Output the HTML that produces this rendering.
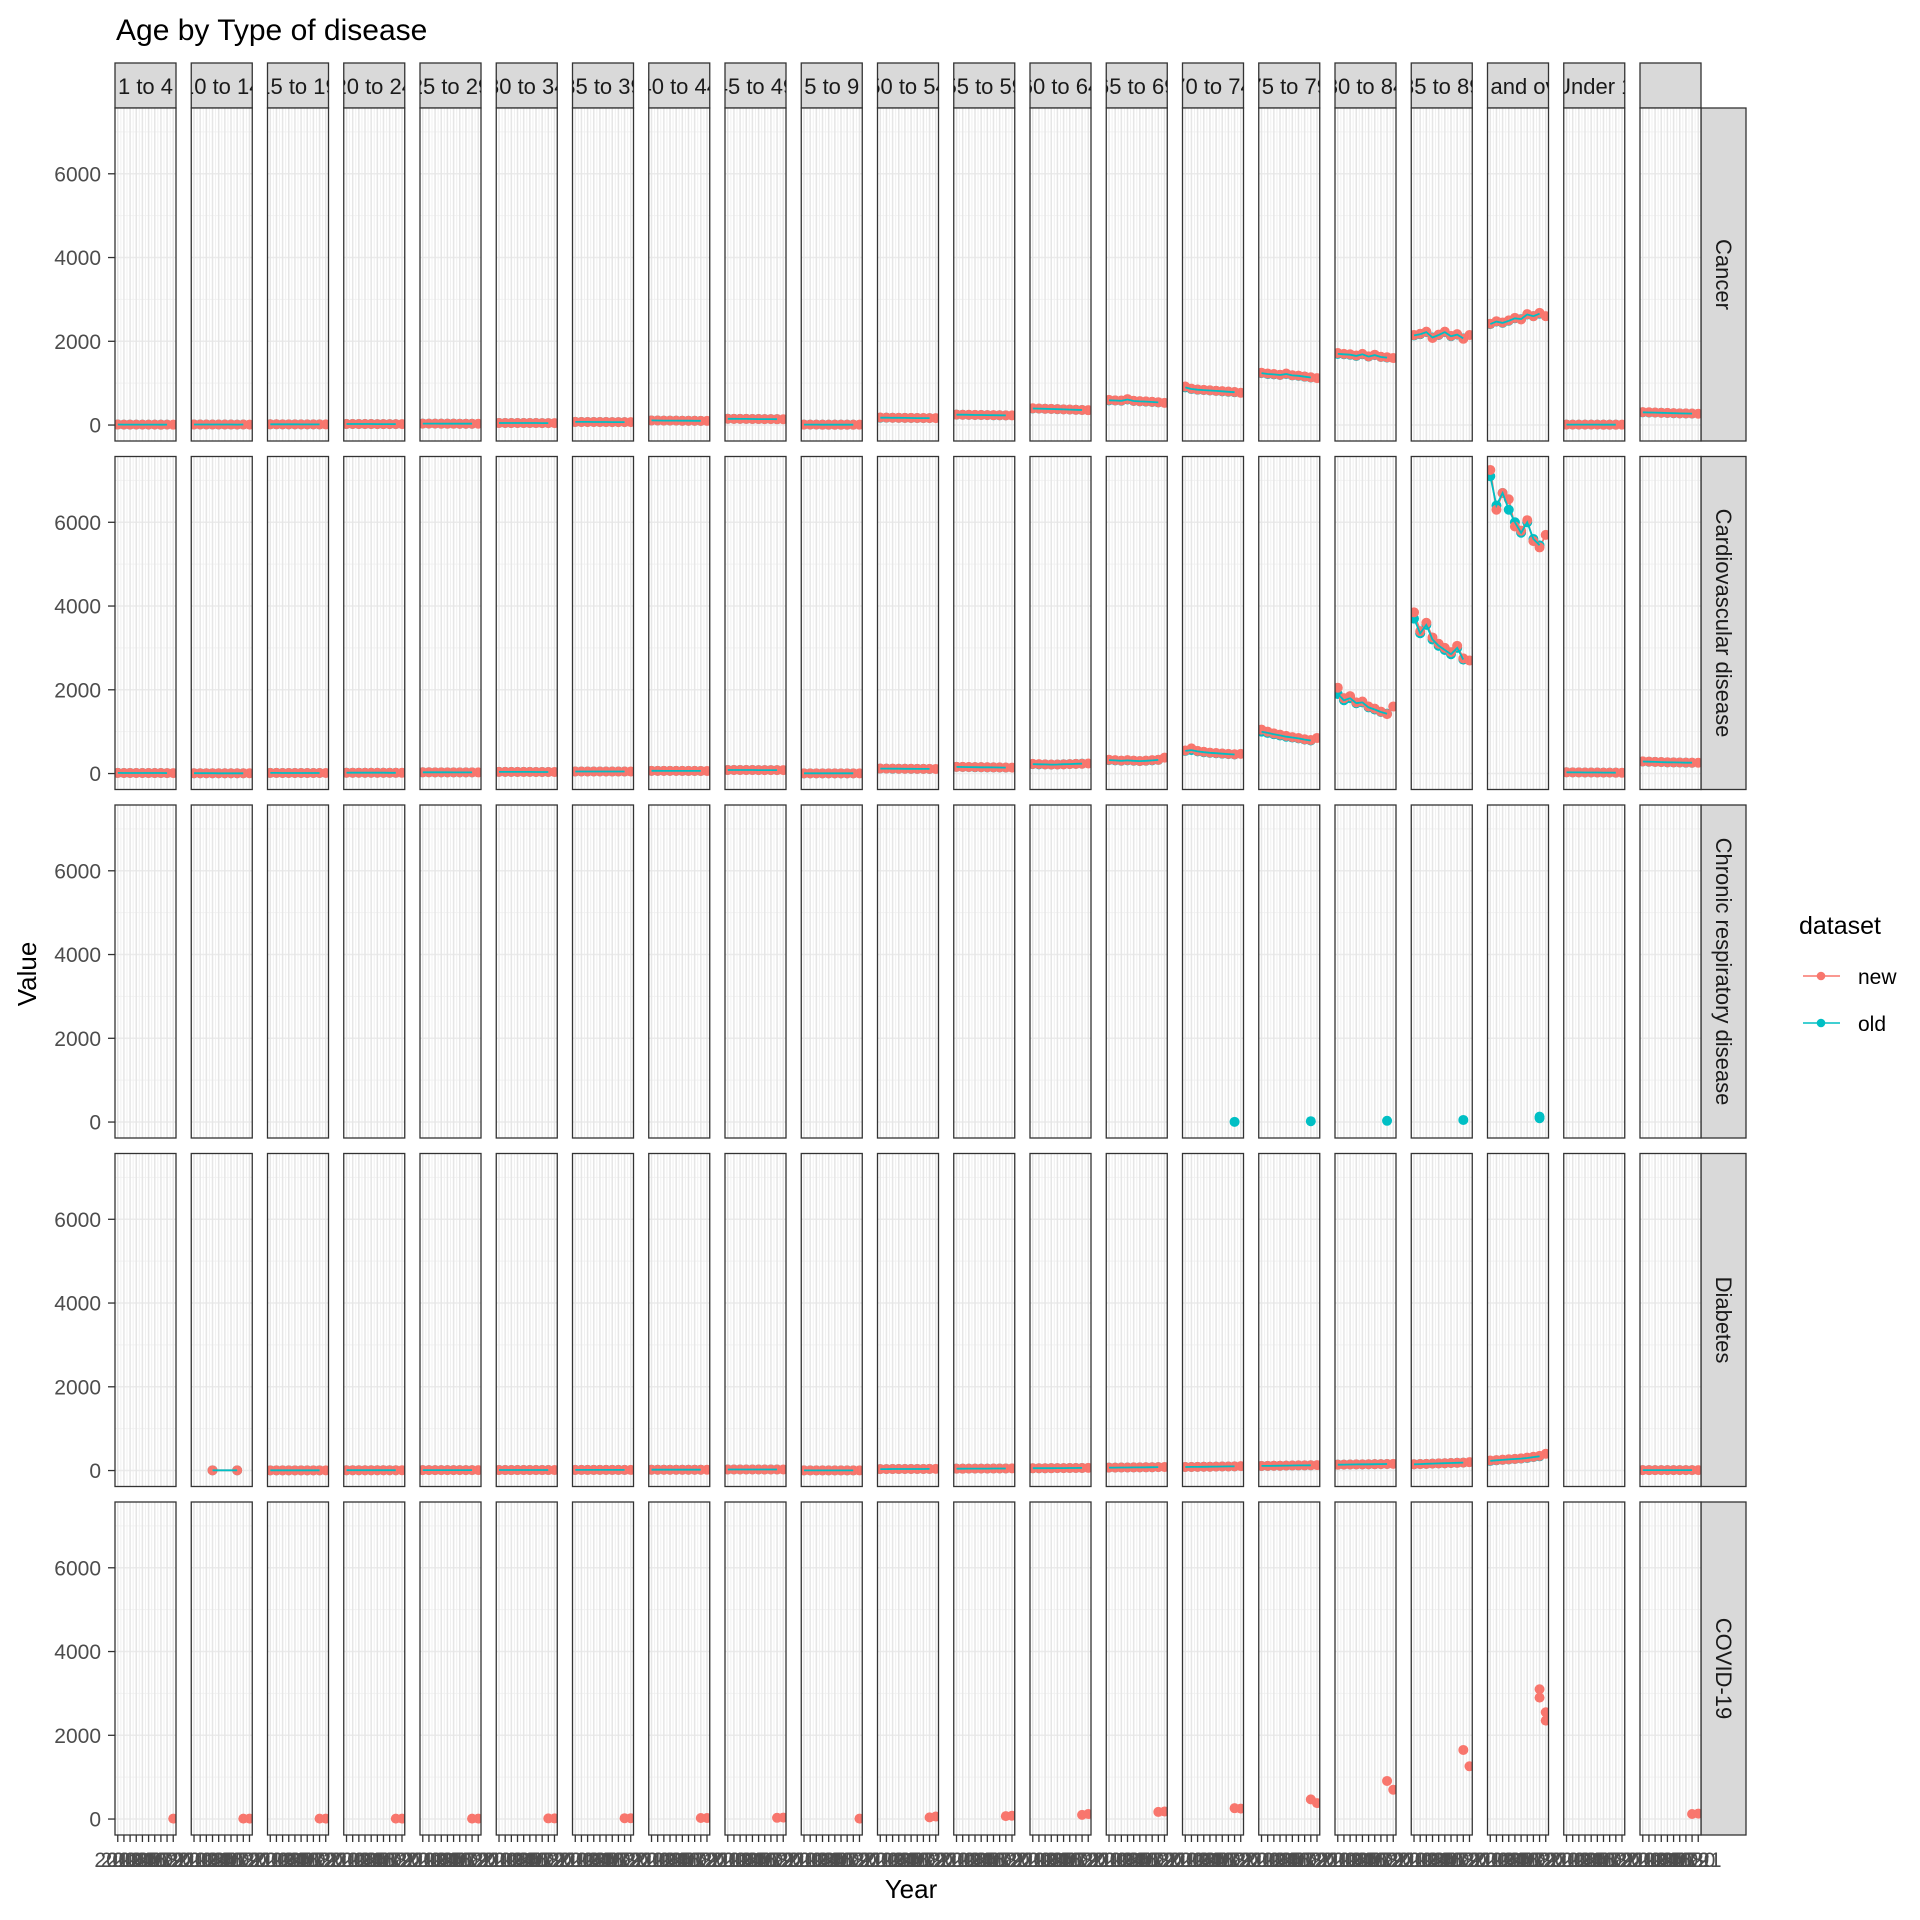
<!DOCTYPE html>
<html><head><meta charset="utf-8"><style>
html,body{margin:0;padding:0;background:#fff;}
svg{display:block;font-family:"Liberation Sans",Arial,sans-serif;}
</style></head><body>
<svg id="chart" width="1920" height="1920" xmlns="http://www.w3.org/2000/svg">
<text x="116" y="40" font-size="30" fill="#000">Age by Type of disease</text>
<text transform="translate(36,974) rotate(-90)" text-anchor="middle" font-size="26" fill="#000">Value</text>
<text x="911" y="1898" text-anchor="middle" font-size="26" fill="#000">Year</text>
<g>
<text x="1799" y="934" font-size="25" fill="#000">dataset</text>
<g><line x1="1803" y1="976" x2="1840" y2="976" stroke="#F8766D" stroke-width="1.6"/><circle cx="1821" cy="976" r="4.3" fill="#F8766D"/><text x="1858" y="984" font-size="21">new</text></g>
<g><line x1="1803" y1="1023" x2="1840" y2="1023" stroke="#00BFC4" stroke-width="1.6"/><circle cx="1821" cy="1023" r="4.3" fill="#00BFC4"/><text x="1858" y="1031" font-size="21">old</text></g>
</g>
<g id="panels"></g>
</svg>
<script>
const years=[2012,2013,2014,2015,2016,2017,2018,2019,2020,2021];
const ageGroups=["1 to 4","10 to 14","15 to 19","20 to 24","25 to 29","30 to 34","35 to 39","40 to 44","45 to 49","5 to 9","50 to 54","55 to 59","60 to 64","65 to 69","70 to 74","75 to 79","80 to 84","85 to 89","90 and over","Under 1",""];
const diseases=["Cancer","Cardiovascular disease","Chronic respiratory disease","Diabetes","COVID-19"];
const yTicks=[0,2000,4000,6000];
const yMinor=[1000,3000,5000,7000];
const N=null;
const cancerNew=[
[12,11,11,10,10,10,10,9,10,9],[14,13,13,12,12,12,12,11,12,11],[18,18,17,17,17,16,16,16,15,15],[25,25,24,24,24,23,23,23,22,22],
[35,34,34,33,33,33,32,32,32,31],[50,50,49,49,48,48,48,47,47,46],[75,74,74,73,72,72,71,71,70,70],[110,108,107,106,105,104,103,102,101,100],
[150,148,147,146,145,143,142,141,140,139],[10,10,10,9,9,9,9,9,9,9],[180,178,175,173,172,170,168,167,166,165],[250,247,245,242,240,238,236,234,232,230],
[400,395,390,385,380,375,370,365,360,355],[600,590,585,620,580,570,565,555,545,530],[920,870,850,840,830,820,810,800,790,770],
[1250,1230,1220,1200,1230,1190,1180,1160,1140,1120],[1720,1700,1690,1660,1700,1640,1680,1630,1620,1600],[2150,2180,2230,2080,2160,2230,2130,2170,2060,2150],
[2420,2480,2450,2500,2560,2520,2650,2600,2680,2600],[10,10,10,10,10,10,9,9,9,9],[310,305,300,295,290,285,280,278,275,270]];
const cancerOld=[
[12,11,11,10,10,10,10,9,10,N],[14,13,13,12,12,12,12,11,12,N],[18,18,17,17,17,16,16,16,15,N],[25,25,24,24,24,23,23,23,22,N],
[35,34,34,33,33,33,32,32,32,N],[50,50,49,49,48,48,48,47,47,N],[75,74,74,73,72,72,71,71,70,N],[110,108,107,106,105,104,103,102,101,N],
[150,148,147,146,145,143,142,141,140,N],[10,10,10,9,9,9,9,9,9,N],[175,176,174,172,170,169,167,166,165,N],[248,246,244,241,239,237,235,233,231,N],
[395,392,388,384,379,374,369,364,359,N],[590,585,580,610,575,565,560,550,540,N],[900,860,845,835,825,815,805,795,785,N],
[1240,1220,1210,1195,1220,1185,1175,1155,1135,N],[1700,1690,1680,1650,1690,1635,1670,1625,1610,N],[2140,2170,2220,2090,2150,2220,2120,2160,2070,N],
[2410,2470,2440,2490,2550,2530,2640,2600,2660,N],[10,10,10,10,10,10,9,9,9,N],[305,300,298,293,288,283,279,276,273,N]];
const cardioNew=[
[15,14,14,13,13,12,12,12,11,11],[8,8,8,8,7,7,7,7,7,7],[15,15,14,14,14,14,13,13,13,13],[20,20,20,19,19,19,19,18,18,18],
[30,30,29,29,29,28,28,28,28,27],[40,40,40,39,39,39,38,38,38,38],[50,50,50,49,49,49,48,48,48,48],[65,65,64,64,64,63,63,63,62,62],
[85,85,84,84,84,83,83,83,82,82],[5,5,5,5,5,5,5,5,5,5],[120,118,117,116,115,114,113,112,111,110],[160,158,156,154,152,150,148,146,144,142],
[230,225,220,215,215,220,225,230,235,240],[330,320,310,320,310,300,310,320,330,380],[550,600,540,520,500,490,480,470,460,470],
[1050,1000,960,930,900,870,850,820,800,850],[2050,1800,1850,1700,1720,1600,1550,1480,1420,1600],[3850,3400,3600,3250,3100,3000,2900,3050,2750,2700],
[7250,6300,6700,6550,5900,5800,6050,5550,5400,5700],[30,28,27,26,25,24,23,22,21,20],[290,285,280,275,270,268,265,262,260,258]];
const cardioOld=[
[15,14,14,13,13,12,12,12,11,N],[8,8,8,8,7,7,7,7,7,N],[15,15,14,14,14,14,13,13,13,N],[20,20,20,19,19,19,19,18,18,N],
[30,30,29,29,29,28,28,28,28,N],[40,40,40,39,39,39,38,38,38,N],[50,50,50,49,49,49,48,48,48,N],[65,65,64,64,64,63,63,63,62,N],
[85,85,84,84,84,83,83,83,82,N],[5,5,5,5,5,5,5,5,5,N],[118,117,116,115,114,113,112,111,110,N],[158,156,154,152,150,148,146,144,142,N],
[225,220,218,214,216,222,226,232,236,N],[320,315,305,315,305,298,305,315,325,N],[540,560,530,510,495,485,475,465,455,N],
[1000,970,940,910,880,860,840,810,790,N],[1900,1750,1800,1680,1700,1580,1530,1470,1430,N],[3700,3350,3550,3200,3050,2950,2850,3000,2720,N],
[7100,6400,6700,6300,6000,5750,6000,5600,5450,N],[30,28,27,26,25,24,23,22,21,N],[288,283,278,273,268,266,263,260,258,N]];
const respOld=[N,N,N,N,N,N,N,N,N,N,N,N,N,N,5,20,30,50,90,N,N];
const respOldExtra=[N,N,N,N,N,N,N,N,N,N,N,N,N,N,N,N,N,N,130,N,N];
const diabetesNew=[
[N,N,N,N,N,N,N,N,N,N],[N,N,N,5,N,N,N,5,N,N],[5,5,5,5,5,5,5,5,5,5],[8,8,8,8,8,8,8,8,8,8],
[10,10,10,10,10,10,10,10,10,10],[12,12,12,12,12,12,12,12,12,12],[15,15,15,15,15,15,15,15,15,15],[20,20,20,20,20,20,20,20,20,20],
[25,25,25,25,25,25,25,25,25,25],[3,3,3,3,3,3,3,3,3,3],[35,35,36,36,37,37,38,38,39,40],[45,45,46,46,47,47,48,49,50,52],
[55,55,56,57,58,58,60,61,62,65],[70,70,72,73,75,76,78,80,82,85],[85,86,88,90,92,94,96,98,100,105],
[110,112,114,116,118,120,122,124,126,130],[140,142,144,146,148,150,152,154,156,160],[150,155,160,165,170,175,180,185,190,200],
[240,250,260,270,280,290,310,330,350,400],[N,N,N,N,N,N,N,N,N,N],[10,10,10,10,10,10,10,10,10,10]];
const diabetesOld=[
[N,N,N,N,N,N,N,N,N,N],[N,N,N,5,N,N,N,5,N,N],[5,5,5,5,5,5,5,5,5,N],[8,8,8,8,8,8,8,8,8,N],
[10,10,10,10,10,10,10,10,10,N],[12,12,12,12,12,12,12,12,12,N],[15,15,15,15,15,15,15,15,15,N],[20,20,20,20,20,20,20,20,20,N],
[25,25,25,25,25,25,25,25,25,N],[3,3,3,3,3,3,3,3,3,N],[35,35,36,36,37,37,38,38,39,N],[45,45,46,46,47,47,48,49,50,N],
[55,55,56,57,58,58,60,61,62,N],[70,70,72,73,75,76,78,80,82,N],[85,86,88,90,92,94,96,98,100,N],
[110,112,114,116,118,120,122,124,126,N],[140,142,144,146,148,150,152,154,156,N],[150,155,160,165,170,175,180,185,190,N],
[230,245,255,265,275,285,300,320,340,N],[N,N,N,N,N,N,N,N,N,N],[10,10,10,10,10,10,10,10,10,N]];
const covid2020=[N,10,10,10,10,15,20,25,30,N,40,70,100,170,260,470,910,1650,3100,N,120];
const covid2021=[10,10,10,10,10,15,20,25,35,10,60,80,120,180,250,380,700,1260,2550,N,130];
const covid2020b=[N,N,N,N,N,N,N,N,N,N,N,N,N,N,N,N,N,N,2900,N,N];
const covid2021b=[N,N,N,N,N,N,N,N,N,N,N,N,N,N,N,N,N,N,2350,N,N];

const NS="http://www.w3.org/2000/svg";
const root=document.getElementById('panels');
const PL=115,PW=61,PSTEP=76.25,RT=108,RH=333,RSTEP=348.5;
const yMin=-381,yMax=7571,xMin=2011.55,xMax=2021.45;
const NEW="#F8766D",OLD="#00BFC4";
function mk(tag,attrs,parent){const e=document.createElementNS(NS,tag);for(const k in attrs)e.setAttribute(k,attrs[k]);(parent||root).appendChild(e);return e;}
function xS(c,yr){return PL+c*PSTEP+(yr-xMin)/(xMax-xMin)*PW;}
function yS(r,v){return RT+r*RSTEP+(yMax-v)/(yMax-yMin)*RH;}

function drawLine(g,r,c,vals,color){const seg=[];
  vals.forEach((v,i)=>{if(v!=null)seg.push(xS(c,years[i]).toFixed(1)+','+yS(r,v).toFixed(1));});
  if(seg.length>1){const p=mk('polyline',{points:seg.join(' '),fill:'none',stroke:color,'stroke-width':1.8},g);
    
    }}
function drawPts(g,r,c,vals,color){
  vals.forEach((v,i)=>{if(v==null)return;const d=mk('circle',{cx:xS(c,years[i]),cy:yS(r,v),r:5,fill:color},g);
    
    });}
function drawPair(g,r,c,nv,ov){drawLine(g,r,c,nv,NEW);drawPts(g,r,c,ov,OLD);drawPts(g,r,c,nv,NEW);drawLine(g,r,c,ov,OLD);}

ageGroups.forEach((a,c)=>{
  const x=PL+c*PSTEP;
  const cp=mk('clipPath',{id:'cs'+c});mk('rect',{x:x,y:63,width:PW,height:45},cp);
  const g=mk('g',{});
  
  
  mk('rect',{x:x,y:63,width:PW,height:45,fill:'#D9D9D9',stroke:'#333','stroke-width':1.3},g);
  mk('text',{x:x+PW/2,y:94,'text-anchor':'middle','font-size':22,fill:'#1a1a1a','clip-path':'url(#cs'+c+')'},g).textContent=a;
});
diseases.forEach((d,r)=>{
  const y=RT+r*RSTEP,x=PL+20*PSTEP+PW;
  const g=mk('g',{});
  
  
  mk('rect',{x:x,y:y,width:45,height:RH,fill:'#D9D9D9',stroke:'#333','stroke-width':1.3},g);
  mk('text',{transform:'translate('+(x+15)+','+(y+RH/2)+') rotate(90)','text-anchor':'middle','font-size':22,fill:'#1a1a1a'},g).textContent=d;
});

for(let r=0;r<5;r++){
  for(let c=0;c<21;c++){
    const x0=PL+c*PSTEP,y0=RT+r*RSTEP;
    const g=mk('g',{});
    
    
    mk('rect',{x:x0,y:y0,width:PW,height:RH,fill:'#fff'},g);
    yMinor.forEach(v=>mk('line',{x1:x0,x2:x0+PW,y1:yS(r,v),y2:yS(r,v),stroke:'#F2F2F2','stroke-width':1},g));
    years.forEach((yr,i)=>{if(i<years.length-1){const xm=xS(c,yr+0.5);mk('line',{x1:xm,x2:xm,y1:y0,y2:y0+RH,stroke:'#F0F0F0','stroke-width':1},g);}});
    yTicks.forEach(v=>mk('line',{x1:x0,x2:x0+PW,y1:yS(r,v),y2:yS(r,v),stroke:'#EBEBEB','stroke-width':1.5},g));
    years.forEach(yr=>mk('line',{x1:xS(c,yr),x2:xS(c,yr),y1:y0,y2:y0+RH,stroke:'#E6E6E6','stroke-width':1.5},g));
    const cp=mk('clipPath',{id:'cp'+r+'_'+c});mk('rect',{x:x0,y:y0,width:PW,height:RH},cp);
    const dg=mk('g',{'clip-path':'url(#cp'+r+'_'+c+')'},g);
    if(r===0)drawPair(dg,r,c,cancerNew[c],cancerOld[c]);
    if(r===1)drawPair(dg,r,c,cardioNew[c],cardioOld[c]);
    if(r===2){drawPts(dg,r,c,[N,N,N,N,N,N,N,N,respOld[c],N],OLD);
      drawPts(dg,r,c,[N,N,N,N,N,N,N,N,respOldExtra[c],N],OLD);}
    if(r===3)drawPair(dg,r,c,diabetesNew[c],diabetesOld[c]);
    if(r===4){drawPts(dg,r,c,[N,N,N,N,N,N,N,N,covid2020[c],covid2021[c]],NEW);
      drawPts(dg,r,c,[N,N,N,N,N,N,N,N,covid2020b[c],covid2021b[c]],NEW);}
    mk('rect',{x:x0,y:y0,width:PW,height:RH,fill:'none',stroke:'#333','stroke-width':1.3},g);
  }
  const ag=mk('g',{});
  
  
  yTicks.forEach(v=>{const yy=yS(r,v);
    mk('line',{x1:108,x2:115,y1:yy,y2:yy,stroke:'#333','stroke-width':1.3},ag);
    mk('text',{x:101,y:yy+7.5,'text-anchor':'end','font-size':21,fill:'#4d4d4d'},ag).textContent=v;});
}
const xg=mk('g',{});


const yb=RT+4*RSTEP+RH;
for(let c=0;c<21;c++){years.forEach(yr=>{const xx=xS(c,yr);
  mk('line',{x1:xx,x2:xx,y1:yb,y2:yb+7,stroke:'#333','stroke-width':1.3},xg);
  mk('text',{x:xx,y:yb+32,'text-anchor':'middle','font-size':21,fill:'#4d4d4d'},xg).textContent=yr;});}
</script>
</body></html>
